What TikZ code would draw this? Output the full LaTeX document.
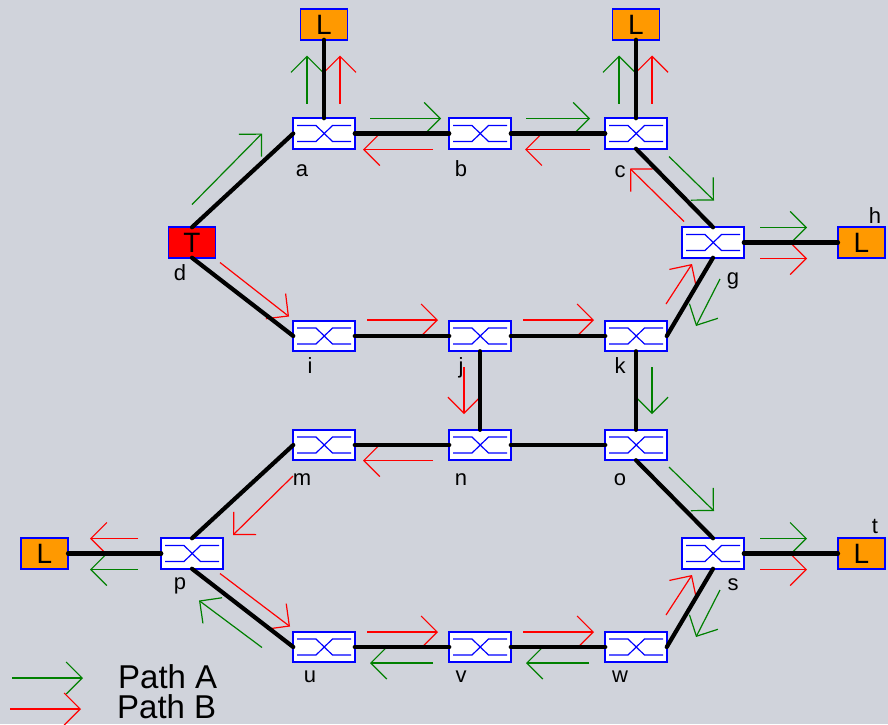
\documentclass[tikz,border=0pt]{standalone}
\usepackage{fontspec}
\setmainfont{Liberation Sans}
\usetikzlibrary{arrows.meta}
\definecolor{panel}{RGB}{208,211,219}
\definecolor{loadorange}{RGB}{255,153,0}
\definecolor{pathgreen}{RGB}{0,128,0}
\tikzset{
switchbox/.style={shape=rectangle, draw=blue, fill=white, line width=1.6pt, outer sep=0pt, minimum width=61.5pt, minimum height=30.5pt,
    path picture={
        \draw[blue, line width=1.2pt] ([shift={(-27,-8)}]path picture bounding box.center) -- ++(19,0) -- ++(16.5,16) -- ++(18.5,0);
        \draw[blue, line width=1.2pt] ([shift={(-27,8)}]path picture bounding box.center) -- ++(19,0) -- ++(16.5,-16) -- ++(18.5,0);
    }},
endbox/.style={shape=rectangle, draw=blue, fill=#1, line width=1.6pt, outer sep=0pt, minimum width=47pt, minimum height=30.5pt, inner sep=0pt, font=\fontsize{28}{28}\selectfont},
tag/.style={inner sep=0pt, anchor=base, font=\fontsize{22}{22}\selectfont},
link/.style={line width=4.2pt, line cap=round},
pathA/.style={draw=pathgreen, line width=1.2pt, -{Straight Barb[length=16pt,width=32pt,line width=1.2pt]}},
pathB/.style={draw=red, line width=1.2pt, -{Straight Barb[length=16pt,width=32pt,line width=1.2pt]}}
}

\begin{document}
\begin{tikzpicture}[x=1pt, y=-1pt]

    \fill[panel] (0,0) rectangle (888,724);
    \useasboundingbox (0,0) rectangle (888,724);

    \node[switchbox] (a) at (324,133.5) {};
    \node[switchbox] (b) at (480,133.5) {};
    \node[switchbox] (c) at (636,133.5) {};
    \node[switchbox] (g) at (713,242.5) {};
    \node[switchbox] (i) at (324,336) {};
    \node[switchbox] (j) at (480,336) {};
    \node[switchbox] (k) at (636,336) {};
    \node[switchbox] (m) at (324,445) {};
    \node[switchbox] (n) at (480,445) {};
    \node[switchbox] (o) at (636,445) {};
    \node[switchbox] (p) at (192,553.5) {};
    \node[switchbox] (s) at (713,553.5) {};
    \node[switchbox] (u) at (324,647) {};
    \node[switchbox] (v) at (480,647) {};
    \node[switchbox] (w) at (636,647) {};

    \node[endbox=red] (d) at (192,242.5) {T};
    \node[endbox=loadorange] (la) at (324,24.5) {L};
    \node[endbox=loadorange] (lc) at (636,24.5) {L};
    \node[endbox=loadorange] (h) at (861.5,242.5) {L};
    \node[endbox=loadorange] (t) at (861.5,553.5) {L};
    \node[endbox=loadorange] (lp) at (44.5,553.5) {L};

    \node[tag] (taga) at (302,176) {a};
    \node[tag] (tagb) at (461,176) {b};
    \node[tag] (tagc) at (620,177) {c};
    \node[tag] (tagd) at (180,280) {d};
    \node[tag] (tagg) at (733,284) {g};
    \node[tag] (tagh) at (875,223) {h};
    \node[tag] (tagi) at (310,373) {i};
    \node[tag] (tagj) at (461,373) {j};
    \node[tag] (tagk) at (620,373) {k};
    \node[tag] (tagm) at (302,485) {m};
    \node[tag] (tagn) at (461,485) {n};
    \node[tag] (tago) at (620,485) {o};
    \node[tag] (tagp) at (180,589) {p};
    \node[tag] (tags) at (733,590) {s};
    \node[tag] (tagt) at (875,533) {t};
    \node[tag] (tagu) at (310,682) {u};
    \node[tag] (tagv) at (461,682) {v};
    \node[tag] (tagw) at (620,682) {w};

    % flows
    \draw[pathA] ([shift={(0,-38)}]d.center) -- ([shift={(70,-109)}]d.center);
    \draw[pathB] ([shift={(28,20)}]d.center) -- ([shift={(97,74)}]d.center);
    \draw[pathA] ([shift={(-17,-30)}]a.center) -- ([shift={(-17,-78)}]a.center);
    \draw[pathB] ([shift={(16,-30)}]a.center) -- ([shift={(16,-78)}]a.center);
    \draw[pathA] ([shift={(46,-15)}]a.center) -- ([shift={(117,-15)}]a.center);
    \draw[pathB] ([shift={(109,16)}]a.center) -- ([shift={(39,16)}]a.center);
    \draw[pathA] ([shift={(46,-15)}]b.center) -- ([shift={(110,-15)}]b.center);
    \draw[pathB] ([shift={(110,16)}]b.center) -- ([shift={(45,16)}]b.center);
    \draw[pathA] ([shift={(-17,-30)}]c.center) -- ([shift={(-17,-78)}]c.center);
    \draw[pathB] ([shift={(16,-30)}]c.center) -- ([shift={(16,-78)}]c.center);
    \draw[pathA] ([shift={(33,23)}]c.center) -- ([shift={(78,67)}]c.center);
    \draw[pathB] ([shift={(48,88)}]c.center) -- ([shift={(-6,35)}]c.center);
    \draw[pathA] ([shift={(47,-15)}]g.center) -- ([shift={(94,-15)}]g.center);
    \draw[pathB] ([shift={(47,16)}]g.center) -- ([shift={(94,16)}]g.center);
    \draw[pathB] ([shift={(30,-32)}]k.center) -- ([shift={(56,-72)}]k.center);
    \draw[pathA] ([shift={(84,-57)}]k.center) -- ([shift={(60,-10)}]k.center);
    \draw[pathB] ([shift={(43,-16)}]i.center) -- ([shift={(114,-16)}]i.center);
    \draw[pathB] ([shift={(43,-16)}]j.center) -- ([shift={(114,-16)}]j.center);
    \draw[pathB] ([shift={(-16,31)}]j.center) -- ([shift={(-16,78)}]j.center);
    \draw[pathA] ([shift={(16,31)}]k.center) -- ([shift={(16,78)}]k.center);
    \draw[pathB] ([shift={(-47,15.5)}]n.center) -- ([shift={(-117,15.5)}]n.center);
    \draw[pathB] ([shift={(-31,31)}]m.center) -- ([shift={(-91,90)}]m.center);
    \draw[pathA] ([shift={(33,22)}]o.center) -- ([shift={(78,66)}]o.center);
    \draw[pathA] ([shift={(47,-15)}]s.center) -- ([shift={(94,-15)}]s.center);
    \draw[pathB] ([shift={(47,16)}]s.center) -- ([shift={(94,16)}]s.center);
    \draw[pathB] ([shift={(30,-32)}]w.center) -- ([shift={(56,-72)}]w.center);
    \draw[pathA] ([shift={(84,-57)}]w.center) -- ([shift={(60,-10)}]w.center);
    \draw[pathB] ([shift={(-54,-15)}]p.center) -- ([shift={(-102,-15)}]p.center);
    \draw[pathA] ([shift={(-54,16)}]p.center) -- ([shift={(-102,16)}]p.center);
    \draw[pathB] ([shift={(28,20)}]p.center) -- ([shift={(98,73)}]p.center);
    \draw[pathA] ([shift={(70,94)}]p.center) -- ([shift={(7,47)}]p.center);
    \draw[pathB] ([shift={(43,-15)}]u.center) -- ([shift={(114,-15)}]u.center);
    \draw[pathB] ([shift={(43,-15)}]v.center) -- ([shift={(114,-15)}]v.center);
    \draw[pathA] ([shift={(-47,16)}]v.center) -- ([shift={(-110,16)}]v.center);
    \draw[pathA] ([shift={(-47,16)}]w.center) -- ([shift={(-110,16)}]w.center);

    % links
    \draw[link] (d.north) -- (a.west);
    \draw[link] (d.south) -- (i.west);
    \draw[link] (a.north) -- (la.south);
    \draw[link] (a.east) -- (b.west);
    \draw[link] (b.east) -- (c.west);
    \draw[link] (c.north) -- (lc.south);
    \draw[link] (c.south) -- (g.north);
    \draw[link] (g.east) -- (h.west);
    \draw[link] (g.south) -- (k.east);
    \draw[link] (i.east) -- (j.west);
    \draw[link] (j.east) -- (k.west);
    \draw[link] (j.south) -- (n.north);
    \draw[link] (k.south) -- (o.north);
    \draw[link] (m.east) -- (n.west);
    \draw[link] (n.east) -- (o.west);
    \draw[link] (m.west) -- (p.north);
    \draw[link] (o.south) -- (s.north);
    \draw[link] (s.east) -- (t.west);
    \draw[link] (s.south) -- (w.east);
    \draw[link] (p.west) -- (lp.east);
    \draw[link] (p.south) -- (u.west);
    \draw[link] (u.east) -- (v.west);
    \draw[link] (v.east) -- (w.west);

    % legend
    \node[inner sep=0pt, anchor=base west, font=\fontsize{33}{33}\selectfont] (legendA) at (118,688) {Path A};
    \node[inner sep=0pt, anchor=base west, font=\fontsize{33}{33}\selectfont] (legendB) at (117,718) {Path B};
    \coordinate (startA) at (12,678);
    \coordinate (endA) at (83,678);
    \coordinate (startB) at (10,709);
    \coordinate (endB) at (81,709);
    \draw[pathA] (startA) -- (endA);
    \draw[pathB] (startB) -- (endB);

\end{tikzpicture}
\end{document}
